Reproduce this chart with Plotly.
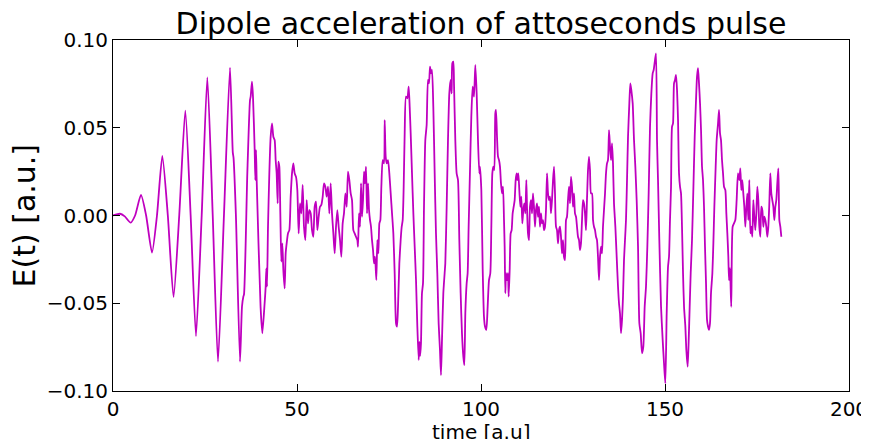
import plotly.graph_objects as go

# time [a.u.] and dipole acceleration E(t) [a.u.]
t = [0.0, 1.9, 3.2, 4.8, 6.0, 7.6, 9.0, 10.6, 11.95, 13.4, 14.9, 16.45, 18.0, 19.65, 21.1, 22.55, 24.1, 25.63,
     27.1, 28.53, 30.15, 31.79, 32.55, 32.75, 33.4, 34.51, 35.05, 35.42, 35.6, 36.5, 37.23, 37.41, 37.77, 38.04,
     38.5, 38.68, 38.86, 39.04, 40.1, 40.58, 41.2, 41.49, 41.67, 41.85, 42.12, 42.48, 42.84, 43.21, 43.57, 43.93,
     44.2, 44.47, 44.75, 44.93, 45.2, 45.47, 45.74, 46.01, 46.29, 46.65, 46.92, 47.19, 47.55, 47.92, 48.28, 48.64,
     49.0, 49.37, 49.73, 50.09, 50.45, 50.82, 51.18, 51.54, 51.90, 52.27, 52.63, 52.99, 53.35, 53.72, 54.08,
     54.44, 54.80, 55.16, 55.53, 55.89, 56.25, 56.61, 56.98, 57.34, 57.70, 58.06, 58.43, 58.79, 59.15, 59.51,
     59.88, 60.24, 60.60, 60.96, 61.32, 61.69, 62.05, 62.41, 62.77, 63.14, 63.50, 63.86, 64.22, 64.59, 64.95,
     65.31, 65.67, 66.03, 66.40, 66.58, 66.85, 67.12, 67.40, 67.67, 67.94, 68.21, 68.48, 68.75, 69.03, 69.30,
     69.57, 69.84, 70.11, 70.38, 70.66, 70.93, 71.20, 71.56, 71.83, 72.11, 72.38, 72.65, 72.92, 73.28, 73.65,
     73.83, 74.10, 74.37, 74.73, 75.09, 75.46, 75.82, 76.18, 76.54, 76.91, 77.18, 77.45, 77.81, 78.17, 78.45,
     78.72, 78.99, 79.26, 79.62, 79.99, 80.35, 80.62, 80.89, 81.25, 81.62, 81.98, 82.34, 82.70, 83.07, 83.25,
     83.45, 83.69, 83.96, 84.24, 84.51, 84.87, 85.23, 85.59, 85.87, 86.14, 86.41, 86.68, 87.04, 87.41, 87.77,
     88.13, 88.49, 88.85, 89.13, 89.40, 89.76, 90.12, 90.30, 90.67, 91.03, 91.39, 91.75, 92.02, 92.21, 92.48,
     92.66, 93.02, 93.38, 93.75, 94.11, 94.47, 94.83, 95.20, 95.47, 95.74, 96.10, 96.37, 96.64, 97.01, 97.37,
     97.73, 98.09, 98.46, 98.82, 99.18, 99.54, 99.72, 100.09, 100.45, 100.81, 101.09, 101.45, 101.81, 102.17,
     102.53, 102.81, 103.08, 103.35, 103.62, 103.89, 104.07, 104.35, 104.62, 104.89, 105.16, 105.43, 105.70,
     105.98, 106.25, 106.43, 106.61, 106.79, 107.06, 107.34, 107.52, 107.79, 108.06, 108.33, 108.60, 108.88,
     109.15, 109.42, 109.69, 109.87, 110.14, 110.41, 110.69, 110.96, 111.23, 111.50, 111.77, 112.05, 112.32,
     112.50, 112.77, 113.04, 113.31, 113.59, 113.86, 114.13, 114.40, 114.67, 114.94, 115.22, 115.49, 115.76,
     116.03, 116.30, 116.57, 116.85, 117.12, 117.39, 117.66, 117.94, 118.21, 118.48, 118.75, 119.02, 119.29,
     119.57, 119.84, 120.11, 120.38, 120.65, 120.92, 121.20, 121.47, 121.74, 122.01, 122.28, 122.55, 122.83,
     123.10, 123.37, 123.64, 123.91, 124.19, 124.46, 124.73, 125.00, 125.27, 125.54, 125.82, 126.09, 126.36,
     126.63, 126.90, 127.17, 127.45, 127.72, 127.99, 128.26, 128.53, 128.80, 129.08, 129.35, 129.62, 129.89,
     130.16, 130.44, 130.71, 130.98, 131.25, 131.52, 131.79, 132.07, 132.34, 132.61, 132.88, 133.15, 133.42,
     133.70, 133.97, 134.24, 134.51, 134.79, 135.06, 135.33, 135.60, 135.87, 136.14, 136.51, 136.87, 137.23,
     137.50, 137.77, 138.05, 138.32, 138.59, 138.86, 139.13, 139.40, 139.68, 139.95, 140.31, 140.58, 140.85,
     141.22, 141.58, 141.94, 142.30, 142.67, 143.03, 143.39, 143.75, 144.11, 144.48, 144.84, 145.20, 145.56,
     145.93, 146.29, 146.65, 146.92, 147.28, 147.56, 147.83, 148.10, 148.46, 148.92, 149.37, 149.73, 150.09,
     150.46, 150.82, 151.09, 151.36, 151.64, 151.91, 152.18, 152.45, 152.72, 152.99, 153.27, 153.54, 153.81,
     154.08, 154.35, 154.62, 154.90, 155.17, 155.53, 155.80, 156.16, 156.44, 156.71, 156.98, 157.34, 157.70,
     158.07, 158.43, 158.70, 158.97, 159.24, 159.52, 159.79, 160.06, 160.33, 160.60, 160.87, 161.15, 161.42,
     161.69, 161.96, 162.23, 162.50, 162.87, 163.14, 163.41, 163.77, 164.04, 164.41, 164.68, 164.95, 165.22,
     165.49, 165.77, 166.04, 166.40, 166.67, 166.94, 167.21, 167.40, 167.66, 168.0, 168.38, 168.75, 169.11,
     169.47, 169.83, 170.20, 170.47, 170.74, 171.01, 171.28, 171.55, 171.83, 172.10, 172.37, 172.64, 172.91,
     173.19, 173.46, 173.73, 174.00, 174.27, 174.54, 174.82, 175.09, 175.36, 175.63, 175.90, 176.17, 176.45,
     176.72, 176.99, 177.26, 177.53, 177.81, 178.08, 178.35, 178.62, 178.89, 179.16, 179.44, 179.71, 179.98,
     180.25, 180.52, 180.80, 181.07, 181.34, 181.61]

E = [0.0, 0.0010, -0.0005, -0.0041, 0.0, 0.0117, 0.0, -0.0212, 0.0, 0.0339, 0.0, -0.0465, 0.0, 0.0597, 0.0,
     -0.0687, 0.0, 0.0787, 0.0, -0.0833, 0.0, 0.0842, 0.0360, 0.0330, 0.0, -0.0833, -0.0520, -0.0462, -0.0450,
     0.0240, 0.0658, 0.0677, 0.0763, 0.0677, 0.0373, 0.0202, 0.0373, 0.0202, -0.0520, -0.0671, -0.0500, -0.0405,
     -0.0301, -0.0405, -0.0064, 0.0240, 0.0449, 0.0525, 0.0449, 0.0430, 0.0316, 0.0240, 0.0069, 0.0307, 0.0278,
     0.0012, -0.0263, -0.0159, -0.0311, -0.0415, -0.0216, -0.0159, -0.0102, -0.0083, 0.0107, 0.0240, 0.0297,
     0.0240, 0.0220, 0.0145, -0.0102, 0.0069, 0.0012, 0.0174, -0.0064, -0.0140, 0.0088, -0.0045, 0.0031, 0.0012,
     -0.0083, -0.0121, 0.0050, 0.0079, -0.0083, -0.0007, 0.0050, 0.0060, 0.0107, 0.0183, 0.0164, 0.0107, 0.0164,
     0.0012, 0.0183, 0.0012, -0.0102, -0.0216, -0.0064, 0.0031, -0.0064, -0.0140, -0.0235, -0.0045, 0.0012,
     0.0126, 0.0050, 0.0250, 0.0202, 0.0126, 0.0088, -0.0083, -0.0102, -0.0121, -0.0140, -0.0178, 0.0012,
     -0.0064, 0.0183, -0.0007, 0.0088, 0.0250, 0.0183, 0.0278, 0.0012, 0.0183, 0.0031, -0.0026, -0.0064, -0.0140,
     -0.0197, -0.0273, -0.0235, -0.0368, -0.0140, -0.0216, -0.0045, -0.0026, 0.0164, 0.0316, 0.0297, 0.0544,
     0.0335, 0.0297, 0.0316, 0.0240, 0.0126, 0.0012, -0.0102, -0.0329, -0.0614, -0.0633, -0.0519, -0.0273,
     -0.0140, -0.0064, -0.0026, 0.0164, 0.0468, 0.0677, 0.0668, 0.0734, 0.0620, 0.0468, 0.0240, 0.0012, -0.0178,
     -0.0368, -0.0633, -0.0823, -0.0720, -0.0800, -0.0728, -0.0443, -0.0387, 0.0050, 0.0430, 0.0516, 0.0772,
     0.0753, 0.0848, 0.0810, 0.0829, 0.0620, 0.0240, -0.0102, -0.0329, -0.0614, -0.0766, -0.0909, -0.0709,
     -0.0443, -0.0329, -0.0273, 0.0050, 0.0430, 0.0696, 0.0772, 0.0696, 0.0867, 0.0877, 0.0753, 0.0430, 0.0240,
     0.0202, -0.0140, -0.0443, -0.0671, -0.0804, -0.0852, -0.0557, -0.0387, -0.0329, -0.0064, 0.0259, 0.0563,
     0.0734, 0.0677, 0.0858, 0.0696, 0.0430, 0.0240, 0.0278, 0.0145, -0.0300, -0.0576, -0.0633, -0.0652, -0.0519,
     -0.0368, -0.0329, -0.0064, 0.0240, 0.0278, 0.0259, 0.0582, 0.0601, 0.0449, 0.0335, 0.0316, 0.0278, 0.0183,
     0.0126, 0.0164, -0.0026, -0.0178, -0.0443, -0.0329, -0.0368, -0.0329, -0.0462, -0.0311, -0.0102, -0.0083,
     0.0012, 0.0050, 0.0088, 0.0202, 0.0240, 0.0202, 0.0240, 0.0145, 0.0050, 0.0107, -0.0045, 0.0031, 0.0069,
     0.0012, 0.0202, 0.0050, -0.0102, -0.0140, 0.0050, 0.0088, 0.0012, 0.0126, 0.0050, -0.0064, 0.0031, 0.0069,
     -0.0007, 0.0050, -0.0064, 0.0012, -0.0045, -0.0026, -0.0083, -0.0064, 0.0031, 0.0240, 0.0126, 0.0088,
     0.0107, 0.0012, 0.0088, 0.0202, 0.0278, 0.0126, -0.0064, -0.0083, -0.0159, -0.0083, -0.0064, -0.0121,
     -0.0216, -0.0140, -0.0235, -0.0254, -0.0026, -0.0007, 0.0088, 0.0164, 0.0069, 0.0221, 0.0164, 0.0050,
     0.0126, 0.0012, -0.0007, -0.0064, -0.0121, -0.0140, -0.0197, -0.0159, -0.0026, 0.0088, 0.0069, 0.0012,
     -0.0083, 0.0088, 0.0259, 0.0335, 0.0259, 0.0126, 0.0126, -0.0026, -0.0064, -0.0083, -0.0121, -0.0140,
     -0.0235, -0.0368, -0.0235, -0.0178, -0.0216, -0.0064, 0.0031, 0.0126, 0.0240, 0.0297, 0.0316, 0.0487,
     0.0392, 0.0316, 0.0411, 0.0297, 0.0069, -0.0064, -0.0235, -0.0405, -0.0500, -0.0557, -0.0671, -0.0595,
     -0.0462, -0.0254, -0.0140, -0.0026, 0.0202, 0.0449, 0.0639, 0.0753, 0.0715, 0.0639, 0.0430, 0.0278, 0.0088,
     -0.0178, -0.0614, -0.0671, -0.0785, -0.0747, -0.0519, -0.0405, -0.0178, 0.0126, 0.0506, 0.0696, 0.0810,
     0.0829, 0.0886, 0.0924, 0.0430, 0.0202, -0.0140, -0.0519, -0.0709, -0.0842, -0.0956, -0.0557, -0.0292,
     -0.0235, -0.0026, 0.0164, 0.0506, 0.0525, 0.0753, 0.0772, 0.0801, 0.0715, 0.0544, 0.0240, 0.0164, 0.0126,
     -0.0064, -0.0329, -0.0519, -0.0633, -0.0766, -0.0861, -0.0709, -0.0519, -0.0329, -0.0140, 0.0145, 0.0449,
     0.0658, 0.0791, 0.0839, 0.0753, 0.0639, 0.0487, 0.0278, 0.0202, 0.0050, -0.0178, -0.0387, -0.0595, -0.0633,
     -0.0652, -0.0614, -0.0443, -0.0329, -0.0159, 0.0050, 0.0278, 0.0430, 0.0525, 0.0601, 0.0468, 0.0430, 0.0316,
     0.0240, 0.0164, 0.0145, 0.0012, -0.0102, -0.0235, -0.0368, -0.0300, -0.0520, -0.0064, -0.0045, -0.0026,
     0.0088, 0.0240, 0.0202, 0.0269, 0.0145, 0.0202, 0.0126, 0.0050, -0.0064, 0.0050, 0.0126, -0.0026, 0.0202,
     -0.0102, -0.0064, -0.0121, 0.0088, -0.0007, -0.0083, 0.0012, 0.0164, 0.0088, -0.0064, -0.0121, 0.0050,
     0.0031, -0.0064, -0.0007, -0.0026, -0.0064, -0.0121, -0.0064, 0.0069, 0.0240, 0.0126, 0.0088, 0.0050,
     -0.0026, 0.0050, 0.0088, 0.0183, 0.0269, -0.0026, -0.0064, -0.0121]

x_ticks = [0, 50, 100, 150, 200]
y_ticks = [-0.10, -0.05, 0.00, 0.05, 0.10]

font = "DejaVu Sans"

fig = go.Figure()
fig.add_trace(go.Scatter(
    x=t, y=E, mode="lines",
    line=dict(color="#bf00bf", width=1.8, shape="spline", smoothing=0.6),
    hoverinfo="skip", showlegend=False,
))

axis_common = dict(
    showgrid=False, zeroline=False, showline=True, linecolor="black", linewidth=1,
    mirror="ticks", ticks="inside", ticklen=7, tickwidth=1, tickcolor="black",
    automargin=False,
    tickfont=dict(family=font, size=20, color="black"),
)

# the page body keeps its default 8px margin, so the figure is sized to fit the window
fig.update_layout(
    width=861, height=431,
    margin=dict(l=105, r=20, t=32, b=48),
    paper_bgcolor="white", plot_bgcolor="white",
    title=dict(text="Dipole acceleration of attoseconds pulse",
               font=dict(family=font, size=30, color="black"),
               x=0.5, xref="paper", y=1 - 15 / 431, yref="container",
               xanchor="center", yanchor="middle", automargin=False),
    xaxis=dict(range=[0, 200], tickvals=x_ticks, **axis_common),
    yaxis=dict(range=[-0.1, 0.1], tickvals=y_ticks, tickformat=".2f", **axis_common),
    annotations=[
        dict(text="E(t) [a.u.]", xref="paper", yref="paper", x=-0.1196, y=0.5,
             textangle=-90, showarrow=False, xanchor="center", yanchor="middle",
             font=dict(family=font, size=30, color="black")),
        dict(text="time [a.u]", xref="paper", yref="paper", x=0.5, y=-0.1166,
             showarrow=False, xanchor="center", yanchor="middle",
             font=dict(family=font, size=20, color="black")),
    ],
)

fig.write_html("out.html")
